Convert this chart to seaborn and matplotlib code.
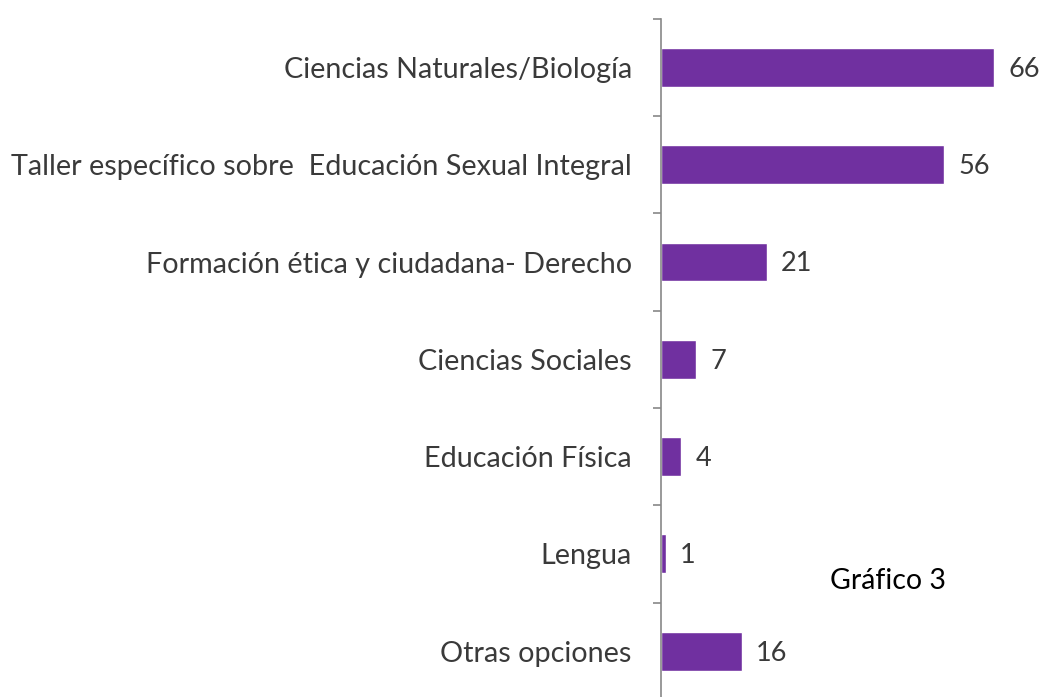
import numpy as np
import pandas as pd
import seaborn as sns
import matplotlib.pyplot as plt

sns.set_style("white")
plt.rcParams['font.family'] = ['Lato', 'DejaVu Sans']

categorias = ['Ciencias Naturales/Biología',
              'Taller específico sobre  Educación Sexual Integral',
              'Formación ética y ciudadana- Derecho',
              'Ciencias Sociales',
              'Educación Física',
              'Lengua',
              'Otras opciones']
valores = [66, 56, 21, 7, 4, 1, 16]

data = pd.DataFrame({'categoria': categorias, 'valor': valores})

fig = plt.figure(figsize=(10.48, 6.97), dpi=100)
ax = fig.add_axes([661 / 1048, -0.004, 1 - 661 / 1048, 0.977])

sns.barplot(ax=ax, data=data, x='valor', y='categoria', orient='h',
            color='#7030A0', saturation=1, width=0.4)

ax.set_xlim(0, 76.6)
ax.set_ylim(6.5, -0.5)
ax.set_xlabel('')
ax.set_ylabel('')
ax.set_xticks([])

# etiquetas de categorías
ax.tick_params(axis='y', which='major', left=False, length=0, pad=21,
               labelsize=20.7, labelcolor='#3a3a3a')
ax.set_yticks(np.arange(-0.5, len(categorias) + 0.5), minor=True)
ax.tick_params(axis='y', which='minor', left=True, length=6, color='#888888', width=1.2)

for s in ['top', 'right', 'bottom']:
    ax.spines[s].set_visible(False)
ax.spines['left'].set_color('#888888')
ax.spines['left'].set_linewidth(1.2)

# valores
for i, v in enumerate(valores):
    ax.text(v + 2.8, i + 0.02, str(v), va='center', ha='left', fontsize=19.5, color='#3a3a3a')

fig.text(830 / 1048, 1 - 581 / 697, 'Gráfico 3', fontsize=20.5, color='black', va='center', ha='left')

fig.savefig('out.png', dpi=100)
